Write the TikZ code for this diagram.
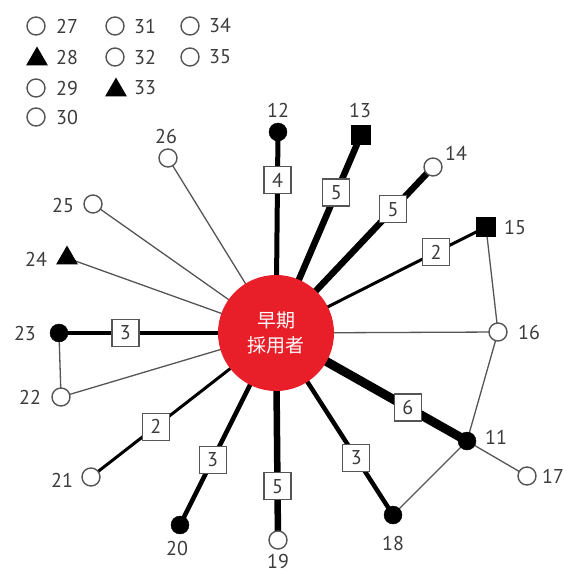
\documentclass[tikz,border=0pt]{standalone}
\usepackage{fontspec}
\setmainfont{PT Sans}
\newfontfamily\cjk{Noto Sans CJK JP}
\usetikzlibrary{shapes.geometric,backgrounds,calc}
\definecolor{redc}{RGB}{232,30,40}
\definecolor{thinc}{RGB}{85,85,85}
\definecolor{txt}{RGB}{60,60,60}
\begin{document}
\begin{tikzpicture}[x=1pt,y=-1pt,
  opn/.style={circle, draw=thinc, line width=1.4pt, fill=white, minimum size=18pt, inner sep=0pt},
  fil/.style={circle, fill=black, draw=black, minimum size=18pt, inner sep=0pt},
  sqr/.style={rectangle, fill=black, minimum size=20pt, inner sep=0pt},
  tri/.style={regular polygon, regular polygon sides=3, fill=black, minimum size=25pt, inner sep=0pt},
  wbox/.style={rectangle, draw=thinc, fill=white, line width=1.2pt, minimum size=27pt, inner sep=0pt, font=\fontsize{20}{20}\selectfont, text=txt},
  lbl/.style={font=\fontsize{20}{20}\selectfont, text=txt, inner sep=0pt},
  thinl/.style={draw=thinc, line width=1.3pt},
  wa/.style={draw=black, line width=3pt},
  wb/.style={draw=black, line width=4.5pt},
  wc/.style={draw=black, line width=5pt},
  wd/.style={draw=black, line width=6.5pt},
  we/.style={draw=black, line width=9pt}]
\useasboundingbox (0,0) rectangle (564,574);
% legend
\node[opn] (l27) at (36,26) {}; \node[lbl] (t27) at (67,26) {27};
\node[tri] (l28) at (37,59) {}; \node[lbl] (t28) at (67,57) {28};
\node[opn] (l29) at (36,88) {}; \node[lbl] (t29) at (67,88) {29};
\node[opn] (l30) at (36,117) {}; \node[lbl] (t30) at (67,117) {30};
\node[opn] (l31) at (115,26) {}; \node[lbl] (t31) at (145,26) {31};
\node[opn] (l32) at (115,57) {}; \node[lbl] (t32) at (145,57) {32};
\node[tri] (l33) at (116,90) {}; \node[lbl] (t33) at (145,88) {33};
\node[opn] (l34) at (190,26) {}; \node[lbl] (t34) at (220,26) {34};
\node[opn] (l35) at (190,57) {}; \node[lbl] (t35) at (220,57) {35};
% center
\node[circle, fill=redc, minimum size=116pt, inner sep=0pt, text=white, align=center,
  font=\cjk\fontsize{19}{25}\selectfont] (C) at (276,333) {早期\\採用者};
% nodes
\node[fil] (n12) at (278,132) {}; \node[lbl] (t12) at (278,110) {12};
\node[sqr] (n13) at (361,135) {}; \node[lbl] (t13) at (360,110) {13};
\node[opn] (n14) at (433,167) {}; \node[lbl] (t14) at (456,153) {14};
\node[sqr] (n15) at (486,227) {}; \node[lbl] (t15) at (515,227) {15};
\node[opn] (n16) at (498,332) {}; \node[lbl] (t16) at (529,332) {16};
\node[fil] (n11) at (467,441) {}; \node[lbl] (t11) at (496,437) {11};
\node[opn] (n17) at (527,476) {}; \node[lbl] (t17) at (553,476) {17};
\node[fil] (n18) at (393,515) {}; \node[lbl] (t18) at (393,543) {18};
\node[opn] (n19) at (278,540) {}; \node[lbl] (t19) at (278,561) {19};
\node[fil] (n20) at (180,525) {}; \node[lbl] (t20) at (177,548) {20};
\node[opn] (n21) at (91,477) {}; \node[lbl] (t21) at (62,480) {21};
\node[opn] (n22) at (61,397) {}; \node[lbl] (t22) at (30,397) {22};
\node[fil] (n23) at (59,333) {}; \node[lbl] (t23) at (25,333) {23};
\node[tri] (n24) at (67,258) {}; \node[lbl] (t24) at (36,259) {24};
\node[opn] (n25) at (93,204) {}; \node[lbl] (t25) at (63,205) {25};
\node[opn] (n26) at (168,158) {}; \node[lbl] (t26) at (166,136) {26};
% weight boxes
\node[wbox] (b12) at ($(C.center)!0.76!(n12.center)$) {4};
\node[wbox] (b13) at ($(C.center)!0.71!(n13.center)$) {5};
\node[wbox] (b14) at ($(C.center)!0.746!(n14.center)$) {5};
\node[wbox] (b15) at ($(C.center)!0.762!(n15.center)$) {2};
\node[wbox] (b11) at ($(C.center)!0.69!(n11.center)$) {6};
\node[wbox] (b18) at ($(C.center)!0.686!(n18.center)$) {3};
\node[wbox] (b19) at ($(C.center)!0.74!(n19.center)$) {5};
\node[wbox] (b20) at ($(C.center)!0.66!(n20.center)$) {3};
\node[wbox] (b21) at ($(C.center)!0.65!(n21.center)$) {2};
\node[wbox] (b23) at ($(C.center)!0.694!(n23.center)$) {3};
% edges
\begin{scope}[on background layer]
\fill[white] (0,0) rectangle (564,574);
\draw[wc] (C.center) -- (n12.center);
\draw[wd] (C.center) -- (n13.center);
\draw[wd] (C.center) -- (n14.center);
\draw[wa] (C.center) -- (n15.center);
\draw[we] (C.center) -- (n11.center);
\draw[wb] (C.center) -- (n18.center);
\draw[wd] (C.center) -- (n19.center);
\draw[wb] (C.center) -- (n20.center);
\draw[wa] (C.center) -- (n21.center);
\draw[wb] (C.center) -- (n23.center);
\draw[thinl] (C.center) -- (n16.center);
\draw[thinl] (C.center) -- (n22.center);
\draw[thinl] (C.center) -- (n24.center);
\draw[thinl] (C.center) -- (n25.center);
\draw[thinl] (C.center) -- (n26.center);
\draw[thinl] (n15.center) -- (n16.center);
\draw[thinl] (n16.center) -- (n11.center);
\draw[thinl] (n11.center) -- (n17.center);
\draw[thinl] (n11.center) -- (n18.center);
\draw[thinl] (n23.center) -- (n22.center);
\end{scope}
\end{tikzpicture}
\end{document}
